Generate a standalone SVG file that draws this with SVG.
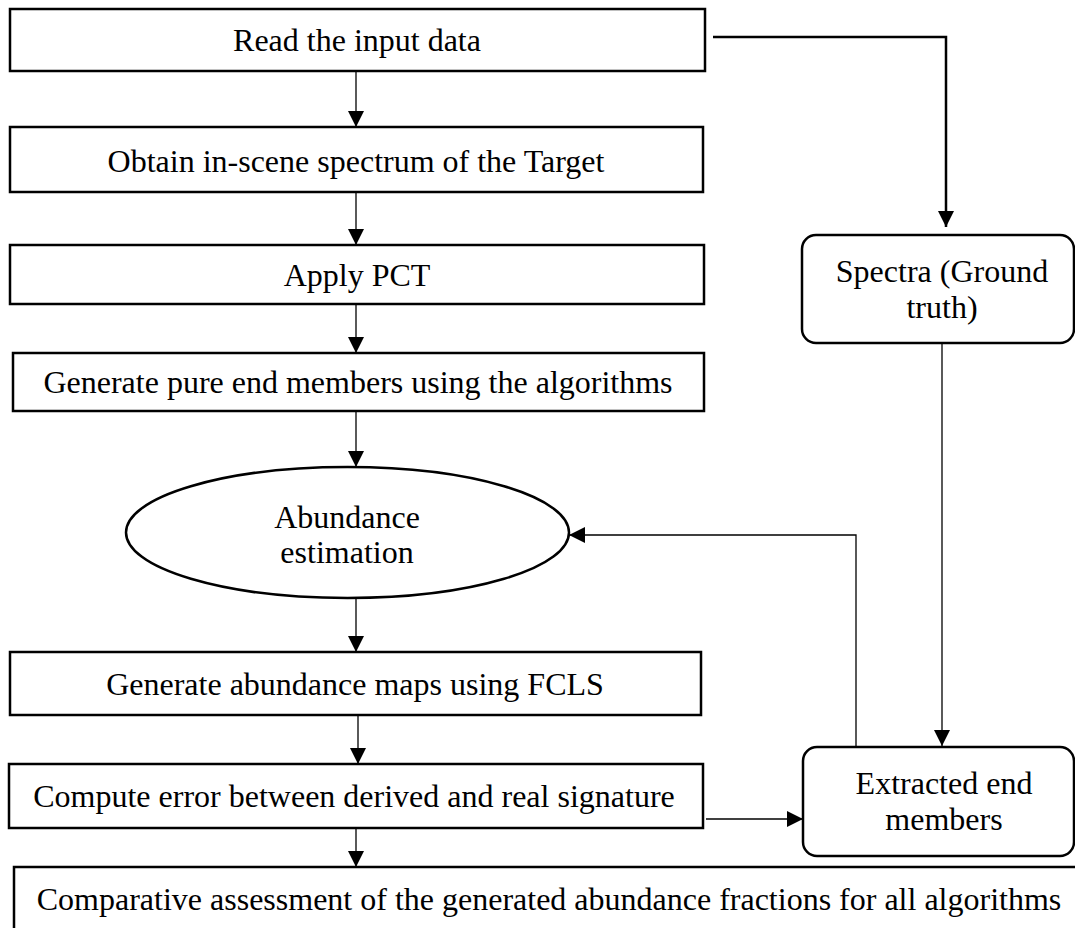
<svg xmlns="http://www.w3.org/2000/svg" width="1075" height="928" viewBox="0 0 1075 928">
<style>
.box{fill:#fff;stroke:#000;stroke-width:2.5}
.t{font-family:'Liberation Serif','Times New Roman','DejaVu Serif',serif;font-size:32px;fill:#000;text-anchor:middle}
.c{fill:none;stroke:#000;stroke-width:1.3}
.ck{fill:none;stroke:#000;stroke-width:2.5}
</style>
<defs>
<marker id="ah" markerUnits="userSpaceOnUse" markerWidth="16" markerHeight="16" viewBox="0 0 16 16" refX="16" refY="8" orient="auto">
<path d="M0,0 L16,8 L0,16 z" fill="#000"/>
</marker>
</defs>
<rect width="1075" height="928" fill="#fff"/>
<g id="connectors">
<path class="ck" d="M713,37 H946 V227" marker-end="url(#ah)"/>
<path class="c" d="M356,72 V127" marker-end="url(#ah)"/>
<path class="c" d="M356,192 V245" marker-end="url(#ah)"/>
<path class="c" d="M356,304 V353" marker-end="url(#ah)"/>
<path class="c" d="M356,411 V467" marker-end="url(#ah)"/>
<path class="c" d="M356,598 V652" marker-end="url(#ah)"/>
<path class="c" d="M358,715 V764" marker-end="url(#ah)"/>
<path class="c" d="M356,828 V867" marker-end="url(#ah)"/>
<path class="c" d="M942,343 V746" marker-end="url(#ah)"/>
<path class="c" d="M856,747 V535 H569" marker-end="url(#ah)"/>
<path class="c" d="M706,819 H803" marker-end="url(#ah)"/>
</g>
<g id="n1"><rect class="box" x="10" y="9" width="695" height="62"/><text class="t" x="357" y="51">Read the input data</text></g>
<g id="n2"><rect class="box" x="10" y="127" width="693" height="65"/><text class="t" x="356" y="172">Obtain in-scene spectrum of the Target</text></g>
<g id="n3"><rect class="box" x="10" y="245" width="694" height="59"/><text class="t" x="357" y="286">Apply PCT</text></g>
<g id="n4"><rect class="box" x="13" y="353" width="691" height="58"/><text class="t" x="358" y="393">Generate pure end members using the algorithms</text></g>
<g id="n5"><ellipse class="box" cx="347.5" cy="532.5" rx="221.5" ry="65.5"/><text class="t" x="347" y="528">Abundance</text><text class="t" x="347" y="563">estimation</text></g>
<g id="n6"><rect class="box" x="10" y="652" width="691" height="63"/><text class="t" x="355" y="695">Generate abundance maps using FCLS</text></g>
<g id="n7"><rect class="box" x="9" y="764" width="694" height="64"/><text class="t" x="354" y="807">Compute error between derived and real signature</text></g>
<g id="n8"><rect class="box" x="14" y="867" width="1080" height="100"/><text class="t" x="549" y="910">Comparative assessment of the generated abundance fractions for all algorithms</text></g>
<g id="n9"><rect class="box" x="802" y="235" width="272" height="108" rx="14"/><text class="t" x="942" y="282">Spectra (Ground</text><text class="t" x="942" y="318">truth)</text></g>
<g id="n10"><rect class="box" x="803" y="747" width="271" height="109" rx="14"/><text class="t" x="944" y="794">Extracted end</text><text class="t" x="944" y="830">members</text></g>
</svg>
